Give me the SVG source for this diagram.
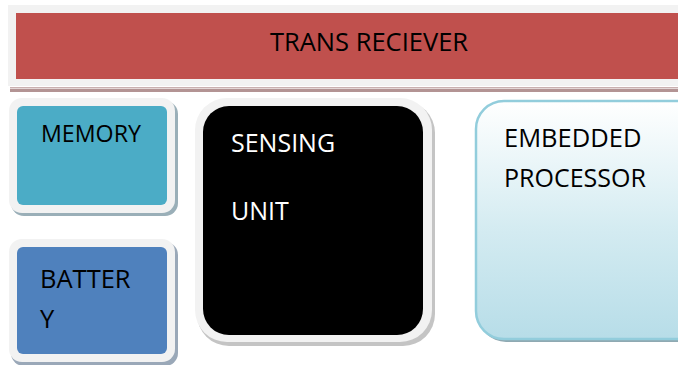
<svg xmlns="http://www.w3.org/2000/svg" width="678" height="365" viewBox="0 0 678 365">
  <defs>
    <linearGradient id="embGrad" x1="0" y1="0" x2="0" y2="1">
      <stop offset="0" stop-color="#ffffff"/>
      <stop offset="0.55" stop-color="#d3ebf1"/>
      <stop offset="1" stop-color="#b7dde8"/>
    </linearGradient>
  </defs>
  <style>
    .lbl { font-family: "Open Sans", "Liberation Sans", sans-serif; fill: #000000; }
    .wlbl { font-family: "Open Sans", "Liberation Sans", sans-serif; fill: #ffffff; }
    .frame { fill: #f2f2f2; }
  </style>
  <rect x="0" y="0" width="678" height="365" fill="#ffffff"/>

  <g id="transreceiver">
    <rect x="10" y="87" width="670" height="1.5" fill="#c9b0b0"/>
    <rect x="10" y="89" width="670" height="3" fill="#b39494"/>
    <rect class="frame" x="8" y="5" width="680" height="81"/>
    <rect x="16" y="13" width="670" height="66" fill="#c0504d"/>
    <text class="lbl" x="369" y="51" font-size="25.5" text-anchor="middle">TRANS RECIEVER</text>
  </g>

  <g id="memory">
    <rect x="11" y="101" width="167" height="115" rx="13" fill="#9aafb8"/>
    <rect class="frame" x="9" y="98" width="166" height="115" rx="13"/>
    <rect x="17" y="106" width="150" height="99" rx="6" fill="#4bacc6"/>
    <text class="lbl" x="41" y="142" font-size="23.2">MEMORY</text>
  </g>

  <g id="battery">
    <rect x="11" y="242" width="167" height="124" rx="13" fill="#9aa8b8"/>
    <rect class="frame" x="9" y="239" width="166" height="123" rx="13"/>
    <rect x="17" y="247" width="150" height="107" rx="6" fill="#4f81bd"/>
    <text class="lbl" x="40" y="288" font-size="25.5">BATTER</text>
    <text class="lbl" x="40" y="328" font-size="25.5">Y</text>
  </g>

  <g id="sensing">
    <rect x="197" y="101" width="238" height="245" rx="32" fill="#c4c4c4"/>
    <rect class="frame" x="195" y="98" width="237" height="244" rx="32"/>
    <rect x="203" y="106" width="220" height="229" rx="26" fill="#000000"/>
    <text class="wlbl" x="231" y="152" font-size="25">SENSING</text>
    <text class="wlbl" x="231" y="220" font-size="25">UNIT</text>
  </g>

  <g id="processor">
    <rect x="478" y="104" width="230" height="238" rx="28" fill="#8fa9b2"/>
    <rect x="476" y="101" width="230" height="238" rx="28" fill="url(#embGrad)" stroke="#92cddc" stroke-width="2.5"/>
    <text class="lbl" x="504" y="147" font-size="25.5">EMBEDDED</text>
    <text class="lbl" x="504" y="187" font-size="25">PROCESSOR</text>
  </g>

  <g id="connectors"></g>
</svg>
